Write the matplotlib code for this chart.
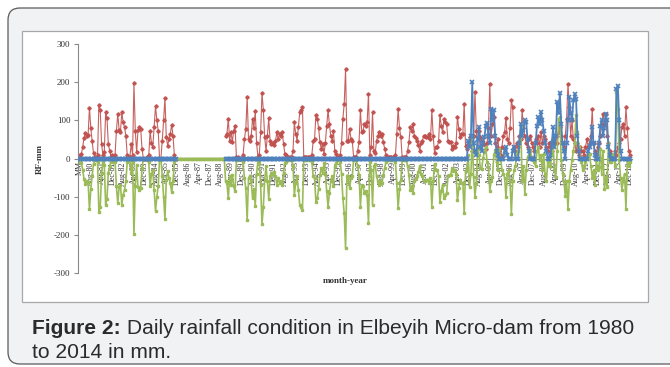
import matplotlib.pyplot as plt
import numpy as np
import pandas as pd
from matplotlib.patches import FancyBboxPatch, Rectangle

nan = np.nan

# categories: a header cell "MM" followed by monthly labels Jan-80 .. Dec-13
months = pd.period_range("1980-01", "2013-12", freq="M")
categories = ["MM"] + [p.strftime("%b-%y") for p in months]
yticks = [-300, -200, -100, 0, 100, 200, 300]

# value in the "MM" slot for each series
first_red, first_blue, first_green = 10, 0, -10

# red series (mm), one row of 12 months per year
red_rows = {
    1980: [12, 30, 55, 68, 58, 62, 133, 80, 45, 14, 5, 0],
    1981: [8, 141, 126, 38, 8, 17, 121, 105, 38, 20, 5, 8],
    1982: [5, 10, 73, 117, 75, 70, 121, 95, 82, 60, 10, 5],
    1983: [5, 38, 10, 197, 73, 16, 75, 82, 78, 25, 0, 0],
    1984: [0, 5, 8, 73, 40, 31, 82, 137, 100, 73, 0, 0],
    1985: [47, 100, 159, 56, 34, 50, 65, 89, 58, 8, 0, nan],
    1986: [nan] * 12,
    1987: [nan] * 12,
    1988: [nan, nan, nan, nan, nan, nan, nan, nan, nan, nan, nan, 60],
    1989: [65, 104, 47, 69, 43, 73, 86, 5, 3, 0, 0, 0],
    1990: [10, 52, 78, 160, 52, 45, 60, 104, 80, 124, 40, 5],
    1991: [10, 69, 172, 127, 56, 20, 60, 105, 47, 38, 40, 35],
    1992: [45, 69, 50, 65, 60, 69, 38, 12, 8, 3, 0, 5],
    1993: [5, 20, 95, 65, 47, 82, 121, 126, 134, 5, 3, 3],
    1994: [3, 3, 3, 10, 47, 52, 113, 104, 80, 43, 25, 38],
    1995: [12, 40, 86, 126, 90, 60, 47, 73, 20, 12, 5, 5],
    1996: [8, 40, 104, 143, 235, 47, 47, 78, 52, 45, 3, 5],
    1997: [5, 20, 43, 126, 69, 73, 91, 85, 95, 169, 10, 30],
    1998: [121, 20, 15, 47, 60, 69, 60, 65, 43, 25, 8, 3],
    1999: [3, 3, 3, 3, 3, 10, 65, 130, 80, 56, 3, 3],
    2000: [3, 3, 20, 43, 82, 73, 91, 60, 55, 47, 35, 20],
    2001: [40, 47, 60, 60, 56, 56, 65, 50, 126, 60, 15, 30],
    2002: [30, 45, 113, 86, 69, 104, 95, 90, 47, 43, 43, 25],
    2003: [34, 30, 40, 110, 78, 56, 65, 65, 143, 34, 25, 38],
    2004: [56, 52, 20, 60, 174, 73, 25, 73, 56, 47, 38, 38],
    2005: [25, 40, 80, 196, 60, 90, 108, 40, 30, 50, 20, 10],
    2006: [30, 60, 70, 107, 50, 40, 80, 152, 134, 30, 20, 40],
    2007: [30, 60, 50, 126, 80, 60, 40, 30, 50, 60, 40, 30],
    2008: [20, 50, 40, 60, 30, 70, 40, 60, 50, 30, 20, 40],
    2009: [30, 20, 50, 40, 60, 40, 70, 82, 60, 40, 30, 60],
    2010: [104, 196, 134, 60, 100, 50, 40, 20, 40, 10, 30, 20],
    2011: [20, 10, 30, 50, 30, 40, 60, 130, 40, 20, 10, 30],
    2012: [40, 60, 90, 117, 90, 117, 60, 40, 20, 10, 10, 5],
    2013: [20, 10, 30, 40, 50, 82, 90, 60, 134, 80, 20, 10],
}

# blue series: flat at zero until Dec-03 (missing during the 1986-88 gap)
blue_zero_year = [0] * 12
blue_rows = {
    1985: [0, 0, 0, 0, 0, 0, 0, 0, 0, 0, 0, nan],
    1986: [nan] * 12,
    1987: [nan] * 12,
    1988: [nan, nan, nan, nan, nan, nan, nan, nan, nan, nan, nan, 0],
    2003: [0, 0, 0, 0, 0, 0, 0, 0, 0, 0, 0, 47],
    2004: [30, 60, 200, 40, 20, 10, 50, 82, 30, 20, 40, 56],
    2005: [86, 93, 60, 40, 130, 100, 126, 60, 20, 10, 0, 0],
    2006: [0, 0, 20, 30, 10, 0, 0, 0, 20, 30, 0, 0],
    2007: [0, 40, 90, 60, 75, 100, 95, 50, 20, 0, 0, 0],
    2008: [0, 40, 86, 108, 90, 121, 100, 73, 40, 20, 0, 0],
    2009: [10, 40, 82, 30, 60, 148, 120, 171, 90, 40, 20, 0],
    2010: [40, 100, 161, 120, 100, 152, 169, 156, 60, 20, 0, 0],
    2011: [0, 0, 0, 0, 20, 30, 40, 82, 40, 10, 0, 0],
    2012: [40, 86, 100, 60, 80, 117, 100, 30, 10, 0, 0, 0],
    2013: [0, 182, 191, 100, 20, 0, 0, 0, 0, 0, 0, 0],
}

# green series
green_rows = {
    1980: [-12, -30, -55, -68, -58, -62, -133, -80, -45, -14, -5, 0],
    1981: [-8, -141, -126, -38, -8, -17, -121, -105, -38, -20, -5, -8],
    1982: [-5, -10, -73, -117, -75, -70, -121, -95, -82, -60, -10, -5],
    1983: [-5, -38, -10, -197, -73, -16, -75, -82, -78, -25, 0, 0],
    1984: [0, -5, -8, -73, -40, -31, -82, -137, -100, -73, 0, 0],
    1985: [-47, -100, -159, -56, -34, -50, -65, -89, -58, -8, 0, 0],
    1986: [0, 0, 0, 0, 0, 0, 0, 0, 0, 0, 0, 0],
    1987: [0, 0, 0, 0, 0, 0, 0, 0, 0, 0, 0, 0],
    1988: [0, 0, 0, 0, 0, 0, 0, 0, 0, 0, 0, -60],
    1989: [-65, -104, -47, -69, -43, -73, -86, -5, -3, 0, 0, 0],
    1990: [-10, -52, -78, -160, -52, -45, -60, -104, -80, -124, -40, -5],
    1991: [-10, -69, -172, -127, -56, -20, -60, -105, -47, -38, -40, -35],
    1992: [-45, -69, -50, -65, -60, -69, -38, -12, -8, -3, 0, -5],
    1993: [-5, -20, -95, -65, -47, -82, -121, -126, -134, -5, -3, -3],
    1994: [-3, -3, -3, -10, -47, -52, -113, -104, -80, -43, -25, -38],
    1995: [-12, -40, -86, -126, -90, -60, -47, -73, -20, -12, -5, -5],
    1996: [-8, -40, -104, -143, -235, -47, -47, -78, -52, -45, -3, -5],
    1997: [-5, -20, -43, -126, -69, -73, -91, -85, -95, -169, -10, -30],
    1998: [-121, -20, -15, -47, -60, -69, -60, -65, -43, -25, -8, -3],
    1999: [-3, -3, -3, -3, -3, -10, -65, -130, -80, -56, -3, -3],
    2000: [-3, -3, -20, -43, -82, -73, -91, -60, -55, -47, -35, -20],
    2001: [-40, -47, -60, -60, -56, -56, -65, -50, -126, -60, -15, -30],
    2002: [-30, -45, -113, -86, -69, -104, -95, -90, -47, -43, -43, -25],
    2003: [-34, -30, -40, -110, -78, -56, -65, -65, -143, -34, -25, 9],
    2004: [-75, -40, 60, -49, -100, -63, 25, 9, -26, -27, 2, 18],
    2005: [30, -10, -23, -84, -60, -49, 10, 21, -10, -30, 25, 0],
    2006: [-30, -40, -50, -101, -40, -30, -60, -145, -58, -31, -20, 12],
    2007: [20, 40, 82, -60, -20, -93, -30, 3, 10, 21, 5, -5],
    2008: [-10, -20, 20, 30, -5, 10, -31, 13, -40, -60, -10, -20],
    2009: [-20, 10, 30, -31, -49, 20, 104, 108, -5, -40, -60, -97],
    2010: [-60, -132, -58, -30, -5, 20, 40, 113, 69, 30, 3, -10],
    2011: [-31, -20, -10, 0, 10, 12, -20, -50, -31, -70, -5, -30],
    2012: [-23, 26, -40, 20, -80, -49, -75, 40, -10, -10, 12, 5],
    2013: [-20, 174, 130, -5, -50, -82, -60, -40, -132, -5, -20, -10],
}


def build_series(first, rows, default=None):
    vals = [first]
    for year in range(1980, 2014):
        vals += rows.get(year, default)
    return np.array(vals, dtype=float)


red = build_series(first_red, red_rows)
blue = build_series(first_blue, blue_rows, blue_zero_year)
green = build_series(first_green, green_rows)
x = np.arange(len(categories))

W, H = 670, 367
fig = plt.figure(figsize=(W / 100, H / 100), dpi=100, facecolor="white")

# outer rounded frame (runs off the right edge) and white chart panel
frame = FancyBboxPatch((0.08, 0.03), 7.0, 3.56,
                       boxstyle="round,pad=0,rounding_size=0.12",
                       transform=fig.dpi_scale_trans,
                       fc="#f1f2f4", ec="#5a5a5a", lw=0.9, zorder=-3)
fig.add_artist(frame)
panel = Rectangle((22 / W, 1 - 302 / H), (648 - 22) / W, (302 - 31) / H,
                  transform=fig.transFigure, fc="white", ec="#a8a8a8",
                  lw=0.9, zorder=-2)
fig.add_artist(panel)

ax = fig.add_axes([78 / W, 1 - 273 / H, 554 / W, 229 / H])
ax.patch.set_alpha(0)

# spine moves first: moving it resets the tick objects
for side in ("top", "right"):
    ax.spines[side].set_visible(False)
ax.spines["bottom"].set_position(("data", 0))
ax.spines["bottom"].set_color("#8a8a8a")
ax.spines["left"].set_color("#8a8a8a")
ax.spines["left"].set_linewidth(0.8)

ax.plot(x, red, color="#C0504D", lw=0.8, marker="D", ms=1.8,
        mec="#C0504D", alpha=0.9, zorder=2)
ax.plot(x, green, color="#9BBB59", lw=1.2, marker="s", ms=2.0,
        mec="#9BBB59", zorder=3)
ax.plot(x, blue, color="#4F81BD", lw=1.3, marker="x", ms=3.3, mew=1.2,
        zorder=4)

ax.set_xlim(-1.5, 409.5)
ax.set_ylim(-300, 300)
ax.set_yticks(yticks)
ax.set_yticklabels([str(v) for v in yticks], family="Liberation Serif",
                   fontsize=6.5, color="#333333")
ax.set_xticks(x[::8])
ax.set_xticklabels(categories[::8], family="Liberation Serif",
                   fontsize=5.8, rotation=90, color="#333333")
ax.tick_params(axis="x", length=0, pad=2)
ax.tick_params(axis="y", length=3, width=0.8, color="#8a8a8a", pad=2.5)

ax.set_ylabel("RF-mm", family="Liberation Serif", fontsize=6.5,
              fontweight="bold", color="#333333", labelpad=7)
fig.text(345 / W, 1 - 281 / H, "month-year", family="Liberation Serif",
         fontsize=6.5, fontweight="bold", color="#333333",
         ha="center", va="center")

# caption
cap_kw = dict(family="Liberation Sans", fontsize=15.1, color="#2b2b2b",
              va="baseline")
t1 = fig.text(32 / W, 1 - 333.5 / H, "Figure 2:", fontweight="bold", **cap_kw)
renderer = fig.canvas.get_renderer()
bb = t1.get_window_extent(renderer)
fig.text(bb.x1 / W, 1 - 333.5 / H,
         " Daily rainfall condition in Elbeyih Micro-dam from 1980", **cap_kw)
fig.text(32 / W, 1 - 358.5 / H, "to 2014 in mm.", **cap_kw)

fig.savefig("out.png", dpi=100, facecolor=fig.get_facecolor())
